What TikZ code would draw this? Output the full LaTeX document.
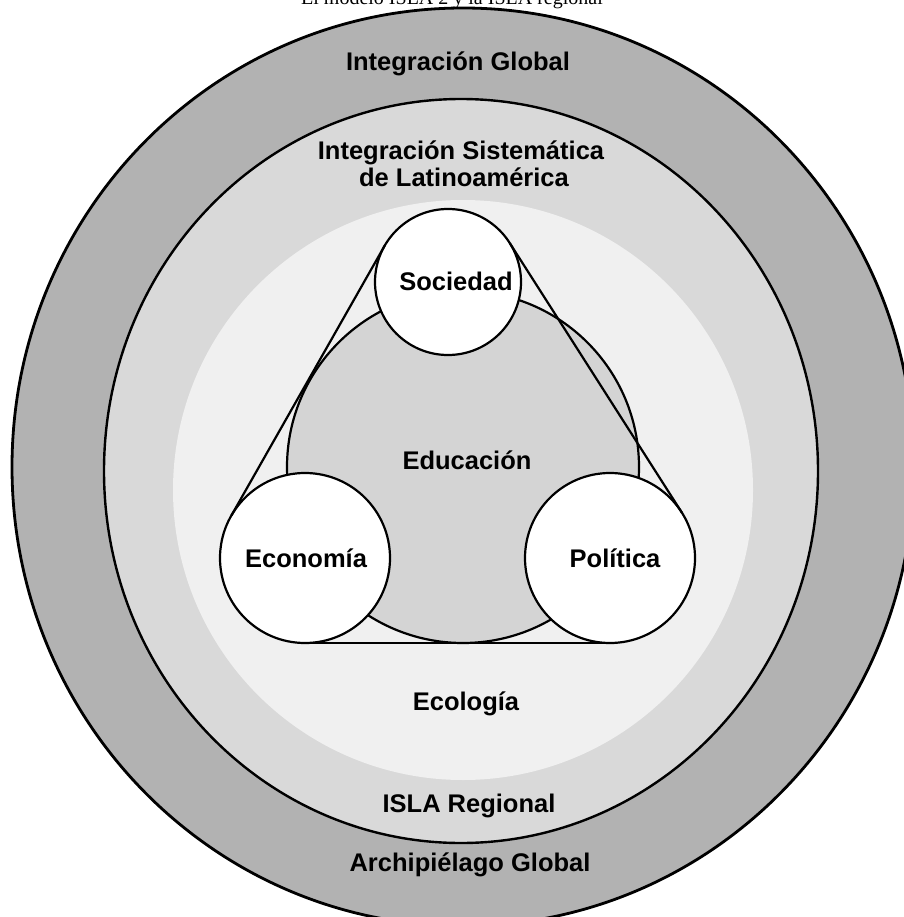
\documentclass[tikz,border=0pt]{standalone}
\usepackage{fontspec}
\setmainfont{Liberation Sans}
\newfontfamily\titlefont{Liberation Serif}
\begin{document}
\begin{tikzpicture}[x=1pt,y=-1pt,
  ringline/.style={draw=black,line width=2.4pt},
  lbl/.style={font=\fontsize{25.5}{29}\selectfont\bfseries,inner sep=0pt},
  whitecirc/.style={circle,draw=black,line width=2.2pt,fill=white,outer sep=0pt,inner sep=0pt},
  belt/.style={draw=black,line width=2.2pt}]
\useasboundingbox (0,0) rectangle (903,917);
% rings
\fill[black!30] (463,467) ellipse[x radius=451,y radius=459];
\draw[ringline,line width=2.8pt] (463,467) ellipse[x radius=451,y radius=459];
\fill[black!15] (461,471) ellipse[x radius=357,y radius=372];
\draw[ringline] (461,471) ellipse[x radius=357,y radius=372];
\fill[black!6] (463,490) circle[radius=290];
% education circle
\node[circle,draw=black,line width=2.2pt,fill=black!17,minimum size=352pt,inner sep=0pt,outer sep=0pt] (edu) at (463,467) {};
% white circles
\node[whitecirc,minimum size=146pt] (soc) at (448,282) {};
\node[whitecirc,minimum size=170pt] (eco) at (305,558) {};
\node[whitecirc,minimum size=170pt] (pol) at (610,558) {};
% belt lines
\draw[belt] (eco.150.4) -- (soc.150.4);
\draw[belt] (soc.32.6) -- (pol.32.6);
\draw[belt] (eco.-90) -- (pol.-90);
% title (cut by page edge, as in the reference)
\node[anchor=base,font=\titlefont\fontsize{20}{24}\selectfont,inner sep=0pt] (title) at (452,5) {El modelo ISLA 2 y la ISLA regional};
% labels
\node[lbl] (lig) at (458,64) {Integración Global};
\node[lbl,anchor=base] (lis1) at (461,160) {Integración Sistemática};
\node[lbl,anchor=base] (lis2) at (464,187) {de Latinoamérica};
\node[lbl] (lsoc) at (456,281) {Sociedad};
\node[lbl] (ledu) at (467,460) {Educación};
\node[lbl] (leco) at (306,558) {Economía};
\node[lbl] (lpol) at (615,558) {Política};
\node[lbl] (leco2) at (466,704) {Ecología};
\node[lbl] (lisla) at (469,806) {ISLA Regional};
\node[lbl] (larch) at (470,865) {Archipiélago Global};
\end{tikzpicture}
\end{document}
